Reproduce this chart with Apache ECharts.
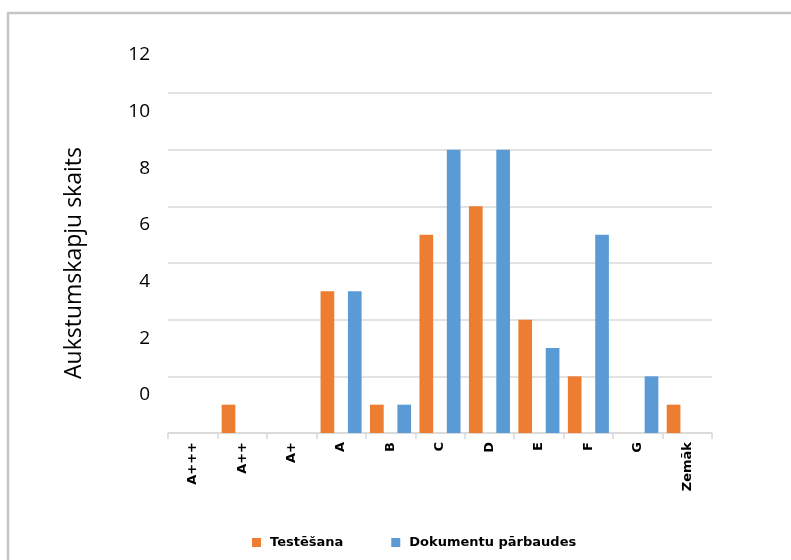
<!DOCTYPE html>
<html>
<head>
<meta charset="utf-8">
<script src="https://cdn.jsdelivr.net/npm/echarts@6/dist/echarts.min.js"></script>
<style>
html,body{margin:0;padding:0;background:#fff;}
#chart{width:791px;height:560px;}
</style>
</head>
<body>
<div id="chart"></div>
<script>
const categories = ['A+++', 'A++', 'A+', 'A', 'B', 'C', 'D', 'E', 'F', 'G', 'Zemāk'];
const testesana = [0, 1, 0, 5, 1, 7, 8, 4, 2, 0, 1];
const dokumentu = [0, 0, 0, 5, 1, 10, 10, 3, 7, 2, 0];
const seriesNames = ['Testēšana', 'Dokumentu pārbaudes'];
const yTitle = 'Aukstumskapju skaits';
const yMin = 0, yMax = 12, yStep = 2;

const chart = echarts.init(document.getElementById('chart'));
chart.setOption({
  backgroundColor: '#fff',
  animation: false,
  graphic: [{
    type: 'polyline',
    shape: { points: [[8, 560], [8, 13], [791, 13]] },
    style: { stroke: '#c6c6c6', lineWidth: 2.5, fill: null }
  }],
  grid: [
    { left: 168, right: 79, top: 93, bottom: 127 },
    { left: 168, right: 79, top: 55, bottom: 165 }
  ],
  legend: {
    bottom: 6,
    left: 247,
    itemWidth: 9,
    itemHeight: 9,
    itemGap: 48,
    icon: 'rect',
    textStyle: { fontFamily: 'DejaVu Sans', fontWeight: 'bold', fontSize: 13, color: '#000', padding: [0, 0, 0, 4] },
    data: seriesNames
  },
  xAxis: [{
    type: 'category',
    data: categories,
    axisLine: { lineStyle: { color: '#d9d9d9', width: 1.5 } },
    axisTick: { show: true, length: 6, lineStyle: { color: '#d9d9d9', width: 1.5 } },
    axisLabel: {
      rotate: 90, interval: 0, margin: 9,
      fontFamily: 'DejaVu Sans', fontWeight: 'bold', fontSize: 13, color: '#000'
    }
  }, {
    type: 'category', gridIndex: 1, data: categories, show: false
  }],
  yAxis: [{
    type: 'value',
    min: yMin, max: yMax, interval: yStep,
    name: yTitle,
    nameLocation: 'middle',
    nameGap: 82,
    nameTextStyle: { fontFamily: 'Open Sans', fontSize: 23, color: '#000' },
    axisLine: { show: false },
    axisTick: { show: false },
    axisLabel: { show: false },
    splitLine: { lineStyle: { color: '#d9d9d9', width: 1.5 } }
  }, {
    type: 'value', gridIndex: 1,
    min: yMin, max: yMax, interval: yStep,
    axisLine: { show: false },
    axisTick: { show: false },
    splitLine: { show: false },
    axisLabel: {
      fontFamily: 'Open Sans', fontSize: 19, color: '#000', margin: 18,
      showMinLabel: true, showMaxLabel: true
    }
  }],
  series: [
    { name: seriesNames[0], type: 'bar', data: testesana, itemStyle: { color: '#ED7D31' }, barGap: '100%', barCategoryGap: '17%' },
    { name: seriesNames[1], type: 'bar', data: dokumentu, itemStyle: { color: '#5B9BD5' }, barGap: '100%', barCategoryGap: '17%' }
  ]
});
</script>
</body>
</html>
